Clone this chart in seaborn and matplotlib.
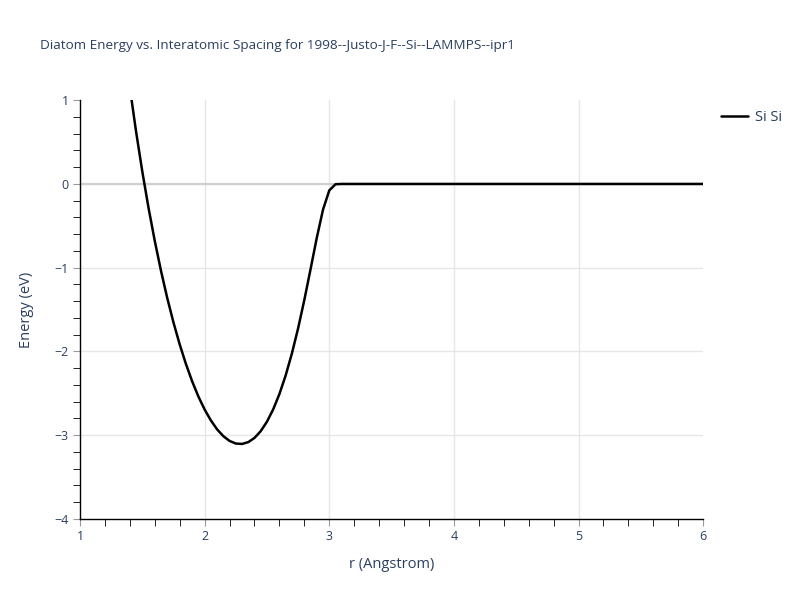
import numpy as np
import pandas as pd
import matplotlib
matplotlib.use('Agg')
import matplotlib.pyplot as plt
import seaborn as sns
from matplotlib.ticker import MultipleLocator

# data (r in Angstrom, energy in eV)
r_vals = [1.35, 1.40, 1.45, 1.50, 1.55, 1.60, 1.65, 1.70, 1.75, 1.80, 1.85,
          1.90, 1.95, 2.00, 2.05, 2.10, 2.15, 2.20, 2.25, 2.30, 2.35, 2.40,
          2.45, 2.50, 2.55, 2.60, 2.65, 2.70, 2.75, 2.80, 2.85, 2.90, 2.95,
          3.00, 3.05, 3.10, 3.50, 4.00, 4.50, 5.00, 5.50, 6.00]
energy = [1.726, 1.149, 0.624, 0.147, -0.287, -0.681, -1.038, -1.362, -1.654,
          -1.916, -2.150, -2.357, -2.538, -2.693, -2.823, -2.930, -3.011,
          -3.068, -3.099, -3.104, -3.082, -3.032, -2.951, -2.838, -2.691,
          -2.508, -2.286, -2.024, -1.723, -1.384, -1.016, -0.641, -0.305,
          -0.077, -0.003, 0.0, 0.0, 0.0, 0.0, 0.0, 0.0, 0.0]
series = ['Si Si'] * len(r_vals)

df = pd.DataFrame({'r': r_vals, 'E': energy, 'pair': series})

sns.set_style('white')
plt.rcParams['font.family'] = ['Open Sans', 'DejaVu Sans']
txt = '#2a3f5f'

fig = plt.figure(figsize=(8, 6), dpi=100)
ax = fig.add_axes([0.1, 0.135, 0.779, 0.698])

sns.lineplot(data=df, x='r', y='E', hue='pair', palette=['black'],
             linewidth=1.8, ax=ax, sort=False)

ax.set_xlim(1, 6)
ax.set_ylim(-4, 1)
ax.xaxis.set_major_locator(MultipleLocator(1))
ax.xaxis.set_minor_locator(MultipleLocator(0.2))
ax.yaxis.set_major_locator(MultipleLocator(1))
ax.yaxis.set_minor_locator(MultipleLocator(0.2))

ax.grid(True, which='major', color='#e6e6e6', linewidth=1)
ax.axhline(0, color='#d0d0d0', linewidth=1.6, zorder=1)
ax.set_axisbelow(True)

for side in ['top', 'right']:
    ax.spines[side].set_visible(False)
for side in ['left', 'bottom']:
    ax.spines[side].set_color('black')
    ax.spines[side].set_linewidth(1)

ax.tick_params(which='major', direction='out', length=5, color='#999999',
               labelsize=9, labelcolor=txt, pad=3)
ax.tick_params(which='minor', direction='out', length=5, color='black')
ax.tick_params(axis='x', which='both', bottom=True)
ax.tick_params(axis='y', which='both', left=True)
ax.set_yticks([-4, -3, -2, -1, 0, 1])
ax.set_yticklabels(['\u22124', '\u22123', '\u22122', '\u22121', '0', '1'])

# no grid lines on the frame edges
fig.canvas.draw()
for t in ax.xaxis.get_major_ticks():
    if t.get_loc() in (1, 6):
        t.gridline.set_visible(False)
for t in ax.yaxis.get_major_ticks():
    if t.get_loc() in (-4, 1):
        t.gridline.set_visible(False)

ax.set_xlabel('r (Angstrom)', fontsize=10.5, color=txt, labelpad=10)
ax.set_ylabel('Energy (eV)', fontsize=10.5, color=txt, labelpad=15)

fig.text(0.05, 0.925, 'Diatom Energy vs. Interatomic Spacing for 1998--Justo-J-F--Si--LAMMPS--ipr1',
         fontsize=9.7, color=txt, va='center', ha='left')

ax.legend(loc='upper left', bbox_to_anchor=(1.02, 0.99), frameon=False,
          fontsize=10.5, labelcolor=txt, handlelength=1.8, handletextpad=0.5,
          borderaxespad=0)

fig.savefig('out.png', dpi=100)
